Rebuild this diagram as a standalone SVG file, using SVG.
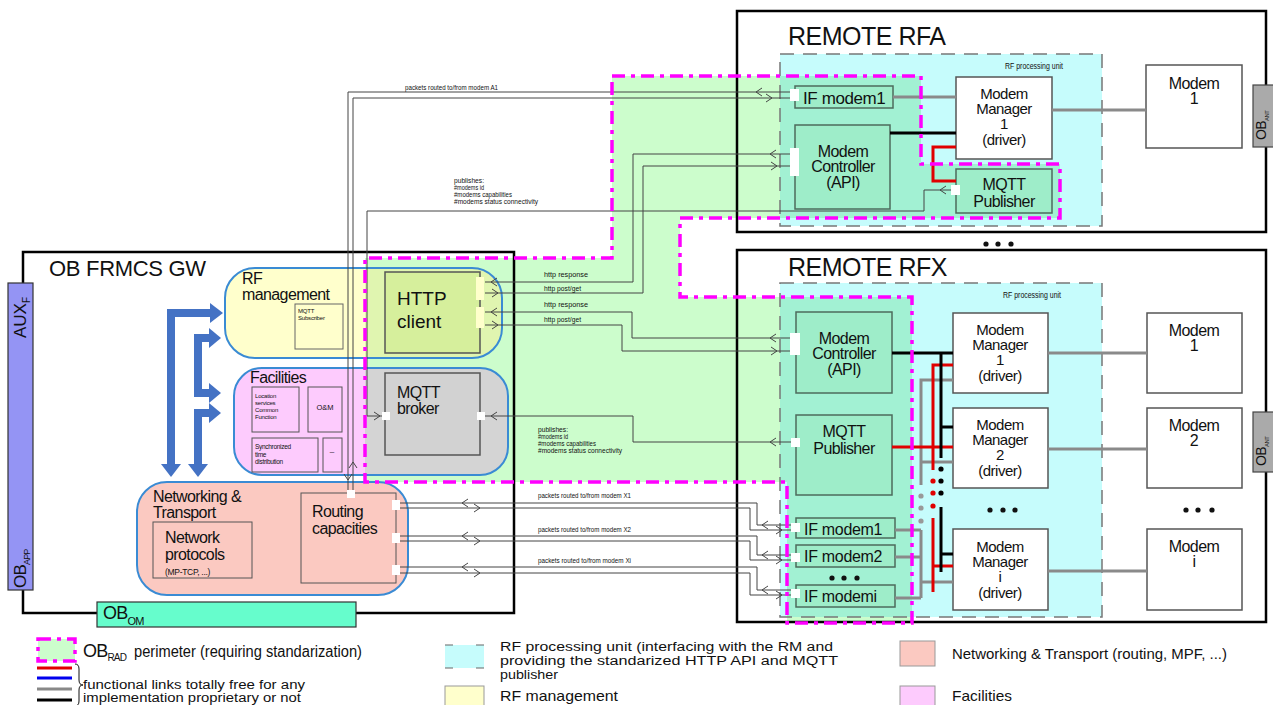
<svg xmlns="http://www.w3.org/2000/svg" width="1273" height="705" viewBox="0 0 1273 705">
<defs>
<style>
text{font-family:"Liberation Sans",Arial,sans-serif;fill:#111}
.big{font-size:25px;letter-spacing:-0.5px}
.m{font-size:16px;letter-spacing:-0.6px}
.mc{font-size:16px;letter-spacing:-0.6px;text-anchor:middle}
.mm{font-size:15px;letter-spacing:-0.5px;text-anchor:middle}
.sm{font-size:8px}
.xs{font-size:6.5px}
.box{fill:#fff;stroke:#555;stroke-width:1.5}
.mint{fill:#9eedc9;stroke:#4d6b5c;stroke-width:1.5}
.blob{stroke:#3a8bd4;stroke-width:2}
.ln{fill:none;stroke:#444;stroke-width:1}
.ch{fill:none;stroke:#444;stroke-width:1}
.gl{stroke:#8a8a8a;stroke-width:3;fill:none}
.rl{stroke:#e00000;stroke-width:3;fill:none}
.bl{stroke:#000;stroke-width:3;fill:none}
.port{fill:#fff}
.dash{fill:none;stroke:#777;stroke-width:1.5;stroke-dasharray:14 9}
.mag{fill:none;stroke:#ff00ff;stroke-width:3.5;stroke-dasharray:13 6 4 6}
.frame{fill:none;stroke:#000;stroke-width:2.5}
.barrow{fill:none;stroke:#4472c4;stroke-width:8}
.bhead{fill:#4472c4}
.small{fill:none;stroke:#555;stroke-width:1}
.lg{font-size:12.5px}
</style>
<path id="cl" d="M6,-4 L0,0 L6,4" class="ch"/>
<path id="cr" d="M-6,-4 L0,0 L-6,4" class="ch"/>
<path id="cu" d="M-4,6 L0,0 L4,6" class="ch"/>
<path id="cd" d="M-4,-6 L0,0 L4,-6" class="ch"/>
<clipPath id="rad"><polygon points="612,76 921,76 921,164 1060,164 1060,218 680,218 680,297 912,297 912,623 787,623 787,482 365,482 365,258 612,258"/></clipPath>
<clipPath id="rfclip"><rect x="225" y="268" width="277" height="90" rx="30"/></clipPath>
<clipPath id="facclip"><rect x="234" y="368" width="274" height="107" rx="28"/></clipPath>
</defs>

<rect x="0" y="0" width="1273" height="705" fill="#fff"/>

<!-- regions -->
<g id="regions">
<polygon points="612,76 921,76 921,164 1060,164 1060,218 680,218 680,297 912,297 912,623 787,623 787,482 365,482 365,258 612,258" fill="#ccfdcc"/>
<rect x="780" y="54" width="322" height="172" fill="#c6fcfc"/>
<rect x="780" y="283" width="322" height="334" fill="#c6fcfc"/>
<g clip-path="url(#rad)">
<rect x="780" y="54" width="322" height="172" fill="#a2f1d3"/>
<rect x="780" y="283" width="322" height="334" fill="#a2f1d3"/>
</g>
<rect x="780" y="54" width="322" height="172" class="dash"/>
<rect x="780" y="283" width="322" height="334" class="dash"/>
<text x="1005" y="69" font-size="9" textLength="58" lengthAdjust="spacingAndGlyphs">RF processing unit</text>
<text x="1003" y="298" font-size="9" textLength="58" lengthAdjust="spacingAndGlyphs">RF processing unit</text>
</g>

<!-- frames -->
<g id="ob-frmcs-gw">
<rect x="23" y="252" width="491" height="361" class="frame"/>
<text x="49" y="276" font-size="22" letter-spacing="-0.3">OB FRMCS GW</text>
</g>
<g id="remote-rfa">
<rect x="737" y="11" width="529" height="221" class="frame"/>
<text x="788" y="45" class="big">REMOTE RFA</text>
</g>
<g id="remote-rfx">
<rect x="737" y="250" width="529" height="372" class="frame"/>
<text x="788" y="276" class="big">REMOTE RFX</text>
</g>
<g id="dots-between">
<circle cx="986" cy="244" r="2.6" fill="#111"/><circle cx="998" cy="244" r="2.6" fill="#111"/><circle cx="1011" cy="244" r="2.6" fill="#111"/>
</g>

<!-- left blobs -->
<g id="rf-management">
<rect x="225" y="268" width="277" height="90" rx="30" fill="#ffffcc"/>
<rect x="365" y="268" width="140" height="90" fill="#e0f5b0" clip-path="url(#rfclip)"/>
<rect x="225" y="268" width="277" height="90" rx="30" fill="none" class="blob"/>
<text x="242" y="284" class="m">RF</text>
<text x="242" y="300" class="m">management</text>
</g>
<g id="mqtt-subscriber">
<rect x="295" y="304" width="48" height="45" fill="none" stroke="#666" stroke-width="1"/>
<text x="298" y="313" font-size="6" letter-spacing="-0.2">MQTT</text>
<text x="298" y="320" font-size="6" letter-spacing="-0.2">Subscriber</text>
</g>
<g id="http-client">
<rect x="385" y="272" width="95" height="81" fill="#d6ef9c" stroke="#555" stroke-width="1.5"/>
<text x="397" y="305" font-family="'Open Sans',sans-serif" font-size="19">HTTP</text>
<text x="397" y="328" font-family="'Open Sans',sans-serif" font-size="19">client</text>
<rect x="476" y="277" width="8" height="23" fill="#ffffcc"/>
<rect x="476" y="307" width="8" height="21" fill="#ffffcc"/>
</g>
<g id="facilities">
<rect x="234" y="368" width="274" height="107" rx="28" fill="#fdcbfd"/>
<rect x="365" y="368" width="145" height="107" fill="#d4d4d4" clip-path="url(#facclip)"/>
<rect x="234" y="368" width="274" height="107" rx="28" fill="none" class="blob"/>
<text x="250" y="383" class="m">Facilities</text>
</g>
<g id="location-services">
<rect x="252" y="387" width="47" height="45" class="small"/>
<text x="255" y="398" font-size="6" letter-spacing="-0.2">Location</text>
<text x="255" y="405" font-size="6" letter-spacing="-0.2">services</text>
<text x="255" y="412" font-size="6" letter-spacing="-0.2">Common</text>
<text x="255" y="419" font-size="6" letter-spacing="-0.2">Function</text>
</g>
<g id="om">
<rect x="308" y="387" width="34" height="45" class="small"/>
<text x="325" y="410" font-size="7.5" text-anchor="middle">O&amp;M</text>
</g>
<g id="sync-time">
<rect x="252" y="438" width="66" height="34" class="small"/>
<text x="255" y="449" font-size="6.5" letter-spacing="-0.3">Synchronized</text>
<text x="255" y="456.5" font-size="6.5" letter-spacing="-0.3">time</text>
<text x="255" y="464" font-size="6.5" letter-spacing="-0.3">distribution</text>
</g>
<g id="other-facility">
<rect x="323" y="438" width="19" height="34" class="small"/>
<text x="332" y="454" font-size="8" text-anchor="middle">–</text>
</g>
<g id="mqtt-broker">
<rect x="385" y="373" width="95" height="82" fill="#d2d2d2" stroke="#555" stroke-width="1.5"/>
<text x="397" y="398" class="m">MQTT</text>
<text x="397" y="414" class="m">broker</text>
<rect x="382" y="412" width="8" height="8" class="port"/>
<rect x="477" y="412" width="8" height="8" class="port"/>
</g>
<g id="networking-transport">
<rect x="137" y="482" width="271" height="113" rx="30" fill="#fbc9c1" class="blob"/>
<text x="153" y="502" class="m">Networking &amp;</text>
<text x="153" y="518" class="m">Transport</text>
</g>
<g id="network-protocols">
<rect x="153" y="522" width="99" height="56" class="small"/>
<text x="165" y="543" font-size="16" letter-spacing="-0.6">Network</text>
<text x="165" y="560" font-size="16" letter-spacing="-0.6">protocols</text>
<text x="165" y="575" font-size="8.5" letter-spacing="-0.3">(MP-TCP, ...)</text>
</g>
<g id="routing-capacities">
<rect x="301" y="493" width="95" height="90" class="small"/>
<text x="312" y="517" class="m">Routing</text>
<text x="312" y="534" class="m">capacities</text>
<rect x="347" y="490" width="8" height="8" class="port"/>
<rect x="392" y="500" width="8" height="10" class="port"/>
<rect x="392" y="533" width="8" height="10" class="port"/>
<rect x="392" y="565" width="8" height="10" class="port"/>
</g>

<!-- blue internal arrows -->
<g id="internal-links">
<polyline points="212,313 171,313 171,466" class="barrow"/>
<polygon points="210,303 223,313 210,323" class="bhead"/>
<polygon points="161,464 171,477 181,464" class="bhead"/>
<polyline points="211,338 198,338 198,393 211,393" class="barrow"/>
<polygon points="209,328 221,338 209,348" class="bhead"/>
<polygon points="209,383 221,393 209,403" class="bhead"/>
<polyline points="211,413 198,413 198,466" class="barrow"/>
<polygon points="209,403 221,413 209,423" class="bhead"/>
<polygon points="188,464 198,477 208,464" class="bhead"/>
</g>

<!-- RFA nodes -->
<g id="rfa-if-modem1">
<rect x="795" y="86" width="98" height="22" class="mint"/>
<text x="803" y="104" font-size="17" letter-spacing="-0.4">IF modem1</text>
<rect x="790" y="89" width="9" height="12" class="port"/>
</g>
<g id="rfa-modem-controller">
<rect x="795" y="125" width="95" height="84" class="mint"/>
<text x="843" y="157" class="mc">Modem</text>
<text x="843" y="172" class="mc">Controller</text>
<text x="843" y="188" class="mc">(API)</text>
<rect x="790" y="148" width="9" height="28" class="port"/>
</g>
<g id="rfa-modem-manager-1">
<rect x="956" y="77" width="96" height="82" class="box"/>
<text x="1004" y="99" class="mm">Modem</text>
<text x="1004" y="114" class="mm">Manager</text>
<text x="1004" y="129" class="mm">1</text>
<text x="1004" y="145" class="mm">(driver)</text>
</g>
<g id="rfa-mqtt-publisher">
<rect x="956" y="169" width="96" height="44" class="mint"/>
<text x="1004" y="190" class="mc">MQTT</text>
<text x="1004" y="207" class="mc">Publisher</text>
<rect x="951" y="185" width="9" height="10" class="port"/>
</g>
<g id="rfa-modem-1">
<rect x="1146" y="65" width="96" height="83" class="box"/>
<text x="1194" y="89" class="mc">Modem</text>
<text x="1194" y="104" class="mc">1</text>
</g>

<!-- RFX nodes -->
<g id="rfx-modem-controller">
<rect x="796" y="312" width="96" height="81" class="mint"/>
<text x="844" y="344" class="mc">Modem</text>
<text x="844" y="359" class="mc">Controller</text>
<text x="844" y="375" class="mc">(API)</text>
<rect x="790" y="333" width="10" height="22" class="port"/>
</g>
<g id="rfx-mqtt-publisher">
<rect x="796" y="415" width="96" height="80" class="mint"/>
<text x="844" y="437" class="mc">MQTT</text>
<text x="844" y="454" class="mc">Publisher</text>
<rect x="791" y="438" width="9" height="9" class="port"/>
</g>
<g id="rfx-if-modem1">
<rect x="796" y="518" width="99" height="20" class="mint"/>
<text x="804" y="535" font-size="16" letter-spacing="-0.3">IF modem1</text>
<rect x="791" y="523" width="9" height="9" class="port"/>
</g>
<g id="rfx-if-modem2">
<rect x="796" y="545" width="99" height="22" class="mint"/>
<text x="804" y="562" font-size="16" letter-spacing="-0.3">IF modem2</text>
<rect x="791" y="553" width="9" height="9" class="port"/>
</g>
<g id="rfx-if-dots">
<circle cx="832" cy="578" r="2.6" fill="#111"/><circle cx="844" cy="578" r="2.6" fill="#111"/><circle cx="857" cy="578" r="2.6" fill="#111"/>
</g>
<g id="rfx-if-modemi">
<rect x="796" y="585" width="99" height="22" class="mint"/>
<text x="804" y="602" font-size="16" letter-spacing="-0.3">IF modemi</text>
<rect x="791" y="589" width="9" height="9" class="port"/>
</g>
<g id="rfx-modem-manager-1">
<rect x="953" y="313" width="95" height="80" class="box"/>
<text x="1000" y="335" class="mm">Modem</text>
<text x="1000" y="350" class="mm">Manager</text>
<text x="1000" y="365" class="mm">1</text>
<text x="1000" y="381" class="mm">(driver)</text>
</g>
<g id="rfx-modem-manager-2">
<rect x="953" y="408" width="95" height="80" class="box"/>
<text x="1000" y="430" class="mm">Modem</text>
<text x="1000" y="445" class="mm">Manager</text>
<text x="1000" y="460" class="mm">2</text>
<text x="1000" y="476" class="mm">(driver)</text>
</g>
<g id="rfx-mm-dots">
<circle cx="990" cy="510" r="2.6" fill="#111"/><circle cx="1003" cy="510" r="2.6" fill="#111"/><circle cx="1015" cy="510" r="2.6" fill="#111"/>
</g>
<g id="rfx-modem-manager-i">
<rect x="953" y="529" width="95" height="81" class="box"/>
<text x="1000" y="552" class="mm">Modem</text>
<text x="1000" y="567" class="mm">Manager</text>
<text x="1000" y="582" class="mm">i</text>
<text x="1000" y="598" class="mm">(driver)</text>
</g>
<g id="rfx-modem-1">
<rect x="1147" y="313" width="95" height="80" class="box"/>
<text x="1194" y="336" class="mc">Modem</text>
<text x="1194" y="351" class="mc">1</text>
</g>
<g id="rfx-modem-2">
<rect x="1147" y="408" width="95" height="80" class="box"/>
<text x="1194" y="431" class="mc">Modem</text>
<text x="1194" y="446" class="mc">2</text>
</g>
<g id="rfx-modem-dots">
<circle cx="1186" cy="510" r="2.6" fill="#111"/><circle cx="1198" cy="510" r="2.6" fill="#111"/><circle cx="1212" cy="510" r="2.6" fill="#111"/>
</g>
<g id="rfx-modem-i">
<rect x="1147" y="529" width="95" height="81" class="box"/>
<text x="1194" y="552" class="mc">Modem</text>
<text x="1194" y="567" class="mc">i</text>
</g>

<!-- connectors -->
<g id="connectors">
<line x1="893" y1="97" x2="956" y2="97" class="gl"/>
<line x1="890" y1="133" x2="956" y2="133" class="bl"/>
<polyline points="956,147 933,147 933,181 956,181" class="rl"/>
<line x1="1052" y1="110" x2="1146" y2="110" class="gl"/>
<line x1="1048" y1="353" x2="1147" y2="353" class="gl"/>
<line x1="1048" y1="449" x2="1147" y2="449" class="gl"/>
<line x1="1048" y1="571" x2="1147" y2="571" class="gl"/>
<polyline points="953,380 921,380 921,485" class="gl"/>
<line x1="921" y1="462" x2="953" y2="462" class="gl"/>
<line x1="921" y1="530" x2="921" y2="598" class="gl"/>
<line x1="895" y1="530" x2="921" y2="530" class="gl"/>
<line x1="895" y1="557" x2="921" y2="557" class="gl"/>
<line x1="895" y1="598" x2="921" y2="598" class="gl"/>
<line x1="921" y1="582" x2="953" y2="582" class="gl"/>
<circle cx="921" cy="496" r="2.6" fill="#999"/><circle cx="921" cy="508" r="2.6" fill="#999"/><circle cx="921" cy="521" r="2.6" fill="#999"/>
<polyline points="953,365 933,365 933,470" class="rl"/>
<line x1="892" y1="447" x2="953" y2="447" class="rl"/>
<line x1="933" y1="518" x2="933" y2="592" class="rl"/>
<line x1="933" y1="566" x2="953" y2="566" class="rl"/>
<circle cx="933" cy="481" r="2.6" fill="#e00000"/><circle cx="933" cy="493" r="2.6" fill="#e00000"/><circle cx="933" cy="506" r="2.6" fill="#e00000"/>
<line x1="892" y1="353" x2="953" y2="353" class="bl"/>
<line x1="941" y1="353" x2="941" y2="458" class="bl"/>
<line x1="941" y1="427" x2="953" y2="427" class="bl"/>
<line x1="941" y1="507" x2="941" y2="572" class="bl"/>
<line x1="941" y1="554" x2="953" y2="554" class="bl"/>
<circle cx="941" cy="469" r="2.6" fill="#000"/><circle cx="941" cy="481" r="2.6" fill="#000"/><circle cx="941" cy="493" r="2.6" fill="#000"/>

<path d="M790,92 H348 V490" class="ln"/>
<path d="M790,98 H353 V490" class="ln"/>
<use href="#cl" x="756" y="92"/><use href="#cr" x="772" y="98"/>
<use href="#cu" x="353" y="462"/><use href="#cd" x="348" y="480"/>
<text x="405" y="90" class="sm" textLength="93" lengthAdjust="spacingAndGlyphs">packets routed to/from modem A1</text>
<path d="M951,190 H924 V211 H367 V416 H382" class="ln"/>
<use href="#cl" x="940" y="190"/><use href="#cr" x="380" y="416"/>
<text x="454" y="183" class="xs" textLength="30" lengthAdjust="spacingAndGlyphs">publishes:</text>
<text x="454" y="190" class="xs" textLength="30" lengthAdjust="spacingAndGlyphs">#modems id</text>
<text x="454" y="197" class="xs" textLength="58" lengthAdjust="spacingAndGlyphs">#modems capabilities</text>
<text x="454" y="204" class="xs" textLength="84" lengthAdjust="spacingAndGlyphs">#modems status connectivity</text>
<path d="M485,282 H633 V154 H790" class="ln"/>
<path d="M485,293 H643 V166 H790" class="ln"/>
<path d="M485,312 H632 V338 H790" class="ln"/>
<path d="M485,325 H622 V351 H790" class="ln"/>
<use href="#cl" x="491" y="282"/><use href="#cr" x="498" y="293"/>
<use href="#cl" x="491" y="312"/><use href="#cr" x="498" y="325"/>
<use href="#cl" x="770" y="154"/><use href="#cr" x="777" y="166"/>
<use href="#cl" x="770" y="338"/><use href="#cr" x="777" y="351"/>
<text x="544" y="277" class="sm" textLength="44" lengthAdjust="spacingAndGlyphs">http response</text>
<text x="544" y="291" class="sm" textLength="37" lengthAdjust="spacingAndGlyphs">http post/get</text>
<text x="544" y="307" class="sm" textLength="44" lengthAdjust="spacingAndGlyphs">http response</text>
<text x="544" y="322" class="sm" textLength="37" lengthAdjust="spacingAndGlyphs">http post/get</text>
<path d="M485,416 H633 V442 H791" class="ln"/>
<use href="#cl" x="491" y="416"/><use href="#cl" x="770" y="442"/>
<text x="538" y="432" class="xs" textLength="30" lengthAdjust="spacingAndGlyphs">publishes:</text>
<text x="538" y="439" class="xs" textLength="30" lengthAdjust="spacingAndGlyphs">#modems id</text>
<text x="538" y="446" class="xs" textLength="58" lengthAdjust="spacingAndGlyphs">#modems capabilities</text>
<text x="538" y="453" class="xs" textLength="84" lengthAdjust="spacingAndGlyphs">#modems status connectivity</text>
<path d="M400,503 H757 V525 H791" class="ln"/>
<path d="M400,508 H750 V530 H791" class="ln"/>
<path d="M400,536 H757 V555 H791" class="ln"/>
<path d="M400,541 H750 V560 H791" class="ln"/>
<path d="M400,567 H757 V590 H791" class="ln"/>
<path d="M400,573 H750 V595 H791" class="ln"/>
<use href="#cl" x="462" y="503"/><use href="#cr" x="480" y="508"/>
<use href="#cl" x="462" y="536"/><use href="#cr" x="480" y="541"/>
<use href="#cl" x="462" y="567"/><use href="#cr" x="480" y="573"/>
<use href="#cl" x="762" y="525"/><use href="#cr" x="782" y="530"/>
<use href="#cl" x="762" y="555"/><use href="#cr" x="782" y="560"/>
<use href="#cl" x="762" y="590"/><use href="#cr" x="782" y="595"/>
<text x="538" y="498" class="sm" textLength="93" lengthAdjust="spacingAndGlyphs">packets routed to/from modem X1</text>
<text x="538" y="532" class="sm" textLength="93" lengthAdjust="spacingAndGlyphs">packets routed to/from modem X2</text>
<text x="538" y="563" class="sm" textLength="93" lengthAdjust="spacingAndGlyphs">packets routed to/from modem Xi</text>
</g>

<g id="ob-rad-perimeter">
<polygon points="612,76 921,76 921,164 1060,164 1060,218 680,218 680,297 912,297 912,623 787,623 787,482 365,482 365,258 612,258" class="mag"/>
</g>

<g id="aux-f-ob-app">
<rect x="8" y="283" width="25" height="307" fill="#9494f4" stroke="#333" stroke-width="1.2"/>
<text transform="translate(26,338) rotate(-90)" font-size="17">AUX<tspan font-size="10" dy="4">F</tspan></text>
<text transform="translate(26,588) rotate(-90)" font-size="17" letter-spacing="-0.8">OB<tspan font-size="9" dy="4">APP</tspan></text>
</g>
<g id="ob-om">
<rect x="97" y="602" width="259" height="25" fill="#66fdcc" stroke="#333" stroke-width="1.2"/>
<text x="103" y="619" font-size="18" letter-spacing="-0.8">OB<tspan font-size="11" dy="6">OM</tspan></text>
</g>
<g id="ob-ant-a">
<rect x="1253" y="85" width="22" height="62" fill="#aaa" stroke="#444" stroke-width="1.2"/>
<text transform="translate(1266,140) rotate(-90)" font-size="14" letter-spacing="-0.6">OB<tspan font-size="6" dy="3">ANT</tspan></text>
</g>
<g id="ob-ant-x">
<rect x="1253" y="412" width="22" height="60" fill="#aaa" stroke="#444" stroke-width="1.2"/>
<text transform="translate(1266,466) rotate(-90)" font-size="14" letter-spacing="-0.6">OB<tspan font-size="6" dy="3">ANT</tspan></text>
</g>

<g id="legend">
<rect x="38" y="639" width="37" height="22" class="mag" style="fill:#ccfdcc"/>
<text x="83" y="657" font-size="18" letter-spacing="-0.8">OB<tspan font-size="10" dy="4">RAD</tspan></text>
<text x="134" y="657" font-size="16" textLength="228" lengthAdjust="spacingAndGlyphs">perimeter (requiring standarization)</text>
<line x1="37" y1="668" x2="72" y2="668" stroke="#e00000" stroke-width="3"/>
<line x1="37" y1="678" x2="72" y2="678" stroke="#0000ee" stroke-width="3"/>
<line x1="37" y1="689" x2="72" y2="689" stroke="#888" stroke-width="3"/>
<line x1="37" y1="700" x2="72" y2="700" stroke="#000" stroke-width="3"/>
<path d="M75,664 q4,0 4,5 v11 q0,5 4,5 q-4,0 -4,5 v11 q0,5 -4,5" fill="none" stroke="#111" stroke-width="1"/>
<text x="83" y="689" font-size="12" textLength="222" lengthAdjust="spacingAndGlyphs">functional links totally free for any</text>
<text x="83" y="702" font-size="12" textLength="218" lengthAdjust="spacingAndGlyphs">implementation proprietary or not</text>
<rect x="445" y="645" width="39" height="23" fill="#c6fcfc" stroke="#666" stroke-width="1.2" stroke-dasharray="8 23"/>
<text x="500" y="651" class="lg" textLength="333" lengthAdjust="spacingAndGlyphs">RF processing unit (interfacing with the RM and</text>
<text x="500" y="665" class="lg" textLength="338" lengthAdjust="spacingAndGlyphs">providing the standarized HTTP API and MQTT</text>
<text x="500" y="679" class="lg" textLength="58" lengthAdjust="spacingAndGlyphs">publisher</text>
<rect x="445" y="686" width="39" height="22" fill="#ffffcc" stroke="#999" stroke-width="1"/>
<text x="500" y="701" font-size="15" textLength="118" lengthAdjust="spacingAndGlyphs">RF management</text>
<rect x="900" y="641" width="35" height="25" fill="#fbc9c1" stroke="#999" stroke-width="1"/>
<text x="952" y="659" font-size="15" textLength="275" lengthAdjust="spacingAndGlyphs">Networking &amp; Transport (routing, MPF, ...)</text>
<rect x="900" y="686" width="35" height="22" fill="#fdcbfd" stroke="#999" stroke-width="1"/>
<text x="952" y="701" font-size="15" textLength="60" lengthAdjust="spacingAndGlyphs">Facilities</text>
</g>
</svg>
